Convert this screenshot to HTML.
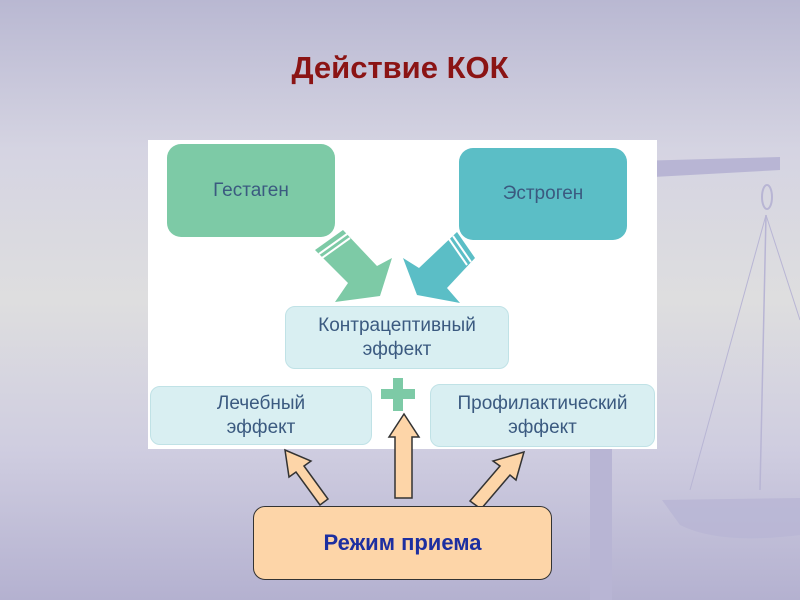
<!DOCTYPE html>
<html><head><meta charset="utf-8"><style>
body{margin:0;width:800px;height:600px;overflow:hidden;position:relative;font-family:"Liberation Sans",sans-serif;
background:linear-gradient(180deg,#b9b8d2 0%,#d5d4e2 25%,#dededf 50%,#cfcde0 75%,#b4b1d0 100%);}
.t{position:absolute;left:0;width:800px;top:50px;text-align:center;font-size:31px;font-weight:bold;color:#8b1414;}
.b{position:absolute;display:flex;align-items:center;justify-content:center;text-align:center;color:#3b5a80;font-size:19px;line-height:24px;box-sizing:border-box;}
</style></head><body>
<svg width="800" height="600" style="position:absolute;left:0;top:0">
<g fill="#b8b5d4" stroke="#b8b5d4">
<polygon points="600,162 780,157 780,170 600,180" stroke="none"/>
<rect x="590" y="440" width="22" height="160" stroke="none"/>
<line x1="766" y1="215" x2="690" y2="490" stroke-width="1"/>
<line x1="766" y1="215" x2="760" y2="490" stroke-width="1.5"/>
<line x1="766" y1="215" x2="800" y2="320" stroke-width="1"/>
<path d="M662,500 L800,498 L800,535 Q720,545 680,525 Z" stroke="none" opacity="0.8"/>
<ellipse cx="767" cy="197" rx="5" ry="12" fill="none" stroke-width="2"/>
</g>
</svg>
<div class="t">Действие КОК</div>
<div style="position:absolute;left:148px;top:140px;width:509px;height:309px;background:#fff"></div>
<div class="b" style="left:167px;top:144px;width:168px;height:93px;background:#7dcaa6;border-radius:14px;">Гестаген</div>
<div class="b" style="left:459px;top:148px;width:168px;height:92px;background:#5bbec6;border-radius:14px;">Эстроген</div>
<svg width="800" height="600" style="position:absolute;left:0;top:0">
<polygon fill="#7dcaa6" points="315,250 343,230 377,266 392,258 380,296 335,302 348,283"/>
<polygon fill="#5bbec6" points="457,232 475,258 447,288 460,303 417,295 403,258 419,268"/>
<line x1="319" y1="254" x2="347" y2="234" stroke="#fff" stroke-width="2"/>
<line x1="322" y1="258" x2="350" y2="238" stroke="#fff" stroke-width="2"/>
<line x1="453" y1="236" x2="471" y2="262" stroke="#fff" stroke-width="2"/>
<line x1="449" y1="239" x2="467" y2="265" stroke="#fff" stroke-width="2"/>
<rect x="393" y="378" width="10" height="33" fill="#7dcaa6"/>
<rect x="381" y="389" width="34" height="10" fill="#7dcaa6"/>
<g fill="#fdd5a8" stroke="#333" stroke-width="1.5">
<polygon points="395,498 395,437 389,437 404,414 419,437 412,437 412,498"/>
<polygon points="320,505 296,472 289,477 285,450 311,461 304,466 328,499"/>
<polygon points="470,501 500,466 493,461 524,452 516,480 510,475 481,509"/>
</g>
</svg>
<div class="b" style="left:285px;top:306px;width:224px;height:63px;background:#d9eff2;border:1px solid #c0e2e6;border-radius:10px;">Контрацептивный<br>эффект</div>
<div class="b" style="left:150px;top:386px;width:222px;height:59px;background:#d9eff2;border:1px solid #c0e2e6;border-radius:10px;">Лечебный<br>эффект</div>
<div class="b" style="left:430px;top:384px;width:225px;height:63px;background:#d9eff2;border:1px solid #c0e2e6;border-radius:10px;">Профилактический<br>эффект</div>
<div class="b" style="left:253px;top:506px;width:299px;height:74px;background:#fdd5a8;border:1.5px solid #333;border-radius:12px;color:#1d2fa0;font-weight:bold;font-size:22px;">Режим приема</div>
</body></html>
